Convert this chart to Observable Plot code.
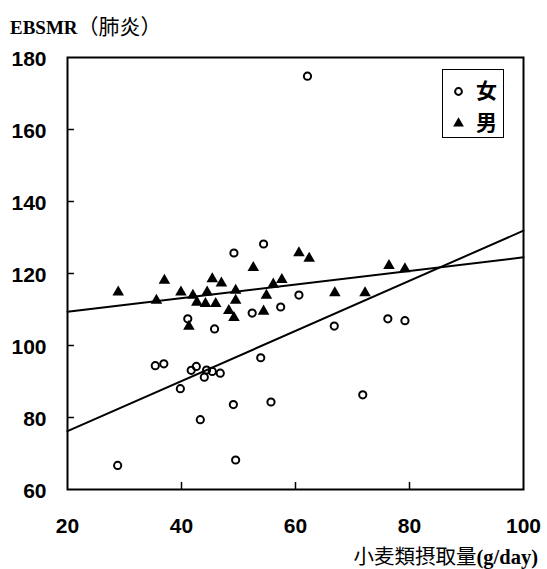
<!DOCTYPE html>
<html><head><meta charset="utf-8">
<script src="https://cdn.jsdelivr.net/npm/d3@7"></script>
<script src="https://cdn.jsdelivr.net/npm/@observablehq/plot@0.6"></script>
<style>
body{margin:0;background:#fff;}
#wrap{position:relative;width:547px;height:569px;overflow:hidden;background:#fff;}
#wrap svg{position:absolute;left:0;top:0;}
#title{position:absolute;left:10px;top:15px;white-space:nowrap;color:#000;line-height:1;}
#title .lat{font-family:"Liberation Serif",serif;font-size:19px;font-weight:bold;}
#title .cjk{font-family:"Noto Sans CJK JP",sans-serif;font-size:21px;}
#xlabel{position:absolute;right:9px;top:545px;white-space:nowrap;color:#000;line-height:1;}
#xlabel .cjk{font-family:"Noto Sans CJK JP",sans-serif;font-size:20.5px;}
#xlabel .lat{font-family:"Liberation Serif",serif;font-size:20.5px;font-weight:bold;}
#legendbox{position:absolute;left:442px;top:69px;width:60px;height:67px;border:1.3px solid #000;z-index:2;}
</style></head><body>
<div id="wrap">
  <div id="title"><span class="lat">EBSMR</span><span class="cjk">（肺炎）</span></div>
  <div id="xlabel"><span class="cjk">小麦類摂取量</span><span class="lat">(g/day)</span></div>
  <div id="legendbox"></div>
</div>
<script>
// 女 (women): wheat intake (g/day) and EBSMR (pneumonia)
const femaleIntake = [62.1, 49.2, 54.4, 41.1, 45.8, 60.6, 52.4, 57.4, 76.2, 79.2, 66.8, 53.9, 35.4, 36.9, 39.8, 41.7, 42.6, 44.4, 44.0, 45.4, 46.8, 49.1, 43.3, 28.8, 49.5, 55.7, 71.8];
const femaleEBSMR  = [174.8, 125.7, 128.2, 107.4, 104.6, 114.0, 109.0, 110.7, 107.4, 106.9, 105.4, 96.6, 94.4, 94.9, 88.0, 93.1, 94.2, 93.2, 91.2, 92.8, 92.3, 83.6, 79.4, 66.7, 68.2, 84.3, 86.3];
// 男 (men)
const maleIntake = [28.9, 37.0, 35.6, 39.9, 42.0, 44.5, 45.4, 47.0, 49.5, 42.7, 44.2, 46.0, 49.5, 48.3, 49.2, 41.3, 52.6, 60.6, 62.4, 56.1, 57.6, 54.9, 54.4, 66.9, 72.2, 76.4, 79.2];
const maleEBSMR  = [114.8, 118.1, 112.5, 114.8, 113.9, 114.8, 118.5, 117.3, 115.3, 112.0, 111.6, 111.6, 112.5, 109.7, 107.7, 105.3, 121.6, 125.7, 124.2, 117.0, 118.3, 113.9, 109.5, 114.6, 114.6, 122.2, 121.3];
// regression lines read at the frame edges
const fitIntake = [20, 100];
const femaleFit = [76.2, 131.9];
const maleFit   = [109.4, 124.5];
// ticks
const xTicks = [20, 40, 60, 80, 100];
const yTicks = [60, 80, 100, 120, 140, 160, 180];
const xInnerTicks = [40, 60, 80];
const yInnerTicks = [80, 100, 120, 140, 160];
const legendLabels = ["女", "男"];

const female = femaleIntake.map((x, i) => ({x, y: femaleEBSMR[i]}));
const male = maleIntake.map((x, i) => ({x, y: maleEBSMR[i]}));
const fitF = fitIntake.map((x, i) => ({x, y: femaleFit[i]}));
const fitM = fitIntake.map((x, i) => ({x, y: maleFit[i]}));

const tickFont = {fontSize: 21, fontWeight: "bold", fontFamily: "Liberation Sans, Arial, sans-serif"};
const legendFont = {fontSize: 21, fontWeight: "bold", fontFamily: "Noto Sans CJK JP, sans-serif", textAnchor: "middle", lineAnchor: "middle"};

const chart = Plot.plot({
  width: 547, height: 569,
  marginLeft: 67, marginRight: 24, marginTop: 57, marginBottom: 80,
  x: {domain: [20, 100]},
  y: {domain: [60, 180]},
  style: {background: "transparent", color: "black", overflow: "visible"},
  marks: [
    Plot.line(fitF, {x: "x", y: "y", stroke: "black", strokeWidth: 2}),
    Plot.line(fitM, {x: "x", y: "y", stroke: "black", strokeWidth: 2}),
    Plot.dot(female, {x: "x", y: "y", symbol: "circle", r: 3.6, fill: "none", stroke: "black", strokeWidth: 2}),
    Plot.dot(male, {x: "x", y: "y", symbol: "triangle", r: 4.3, fill: "black", stroke: "none"}),
    Plot.axisY({ticks: yTicks, tickSize: 0, tickPadding: 21, dy: 2, label: null, ...tickFont}),
    Plot.axisY({ticks: yInnerTicks, tickSize: 7, dx: 7, tickFormat: () => "", label: null, strokeWidth: 1.5}),
    Plot.axisX({ticks: xTicks, tickSize: 0, tickPadding: 29, label: null, ...tickFont}),
    Plot.axisX({ticks: xInnerTicks, tickSize: 7, dy: -7, tickFormat: () => "", label: null, strokeWidth: 1.5}),
    Plot.frame({stroke: "black", strokeWidth: 2}),
    Plot.dot([legendLabels[0]], {frameAnchor: "top-left", dx: 391, dy: 34, symbol: "circle", r: 3.4, fill: "none", stroke: "black", strokeWidth: 2}),
    Plot.dot([legendLabels[1]], {frameAnchor: "top-left", dx: 391, dy: 66, symbol: "triangle", r: 4, fill: "black", stroke: "none"}),
    Plot.text([legendLabels[0]], {frameAnchor: "top-left", dx: 419, dy: 34, text: d => d, ...legendFont}),
    Plot.text([legendLabels[1]], {frameAnchor: "top-left", dx: 419, dy: 66, text: d => d, ...legendFont})
  ]
});
document.getElementById("wrap").prepend(chart);
</script>
</body></html>
